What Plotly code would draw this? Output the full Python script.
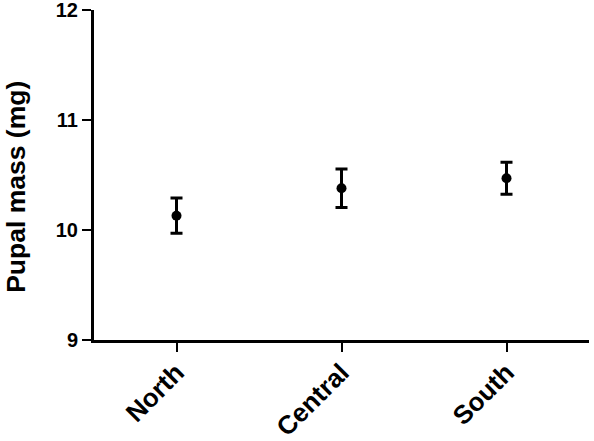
import plotly.graph_objects as go

regions = ["North", "Central", "South"]
mean_mass = [10.13, 10.38, 10.47]
se_mass = [0.16, 0.175, 0.145]
y_ticks = [9, 10, 11, 12]
y_title = "Pupal mass (mg)"

fig = go.Figure()
fig.add_trace(go.Scatter(
    x=list(range(len(regions))), y=mean_mass, mode="markers",
    marker=dict(color="black", size=10),
    error_y=dict(type="data", array=se_mass, visible=True, color="black", thickness=3, width=6),
    showlegend=False,
))
font_family = "Liberation Sans, Arial, sans-serif"
fig.update_layout(
    template="none",
    width=594, height=441,
    margin=dict(l=94, r=5, t=10, b=101),
    plot_bgcolor="white", paper_bgcolor="white",
    font=dict(family=font_family, color="black"),
    xaxis=dict(
        range=[-0.5, 2.5], tickmode="array", tickvals=list(range(len(regions))),
        ticktext=[f"<b>{r}</b>" for r in regions],
        tickangle=-45, showline=True, linecolor="black", linewidth=3,
        ticks="outside", ticklen=9, tickwidth=2, tickcolor="black",
        showgrid=False, zeroline=False, tickfont=dict(size=26), automargin=False,
        ticklabelstandoff=-5, ticklabeloverflow="allow",
    ),
    yaxis=dict(
        range=[9, 12], tickmode="array", tickvals=y_ticks, ticktext=[f"<b>{t}</b>" for t in y_ticks],
        showline=True, linecolor="black", linewidth=3,
        ticks="outside", ticklen=9, tickwidth=2, tickcolor="black",
        showgrid=False, zeroline=False, tickfont=dict(size=20), automargin=False,
        ticklabeloverflow="allow",
    ),
    annotations=[dict(
        text=f"<b>{y_title}</b>", textangle=-90, showarrow=False,
        xref="paper", yref="paper", x=-0.159, y=0.465, xanchor="center", yanchor="middle",
        font=dict(size=26.5),
    )],
)
fig.write_html(
    "out.html",
    config={"displayModeBar": False},
    post_script="document.body.style.margin='0';document.body.style.overflow='hidden';",
)
